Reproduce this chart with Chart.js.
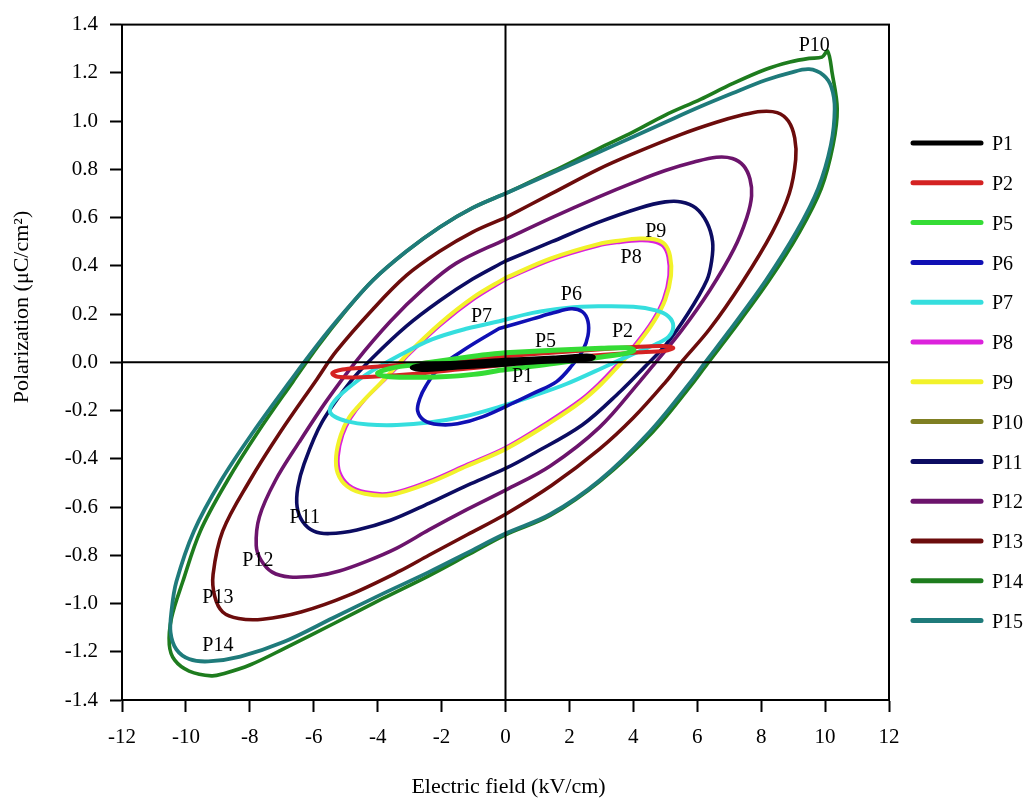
<!DOCTYPE html>
<html>
<head>
<meta charset="utf-8">
<script src="https://cdn.jsdelivr.net/npm/chart.js@4.4.1/dist/chart.umd.min.js"></script>
<style>
  html, body { margin: 0; padding: 0; background: #ffffff; }
  #wrap { width: 1026px; height: 798px; }
</style>
</head>
<body>
<div id="wrap"><canvas id="c" width="1026" height="798"></canvas></div>
<script>
// ---- Data: [E (kV/cm), P (µC/cm²)] loops ----
const p1 = [[0,0.008],[1.5,0.018],[2.55,0.026],[2.75,0.02],[2.5,0.012],[1.0,0.002],[0,-0.008],[-1.5,-0.02],[-2.6,-0.03],[-2.92,-0.022],[-2.6,-0.012],[-2.0,-0.007],[0,0.008]];
const p2 = [[0,0.025],[2.0,0.045],[4.0,0.063],[4.9,0.068],[5.25,0.06],[5.0,0.048],[4.0,0.04],[2.0,0.02],[0,-0.01],[-1.5,-0.03],[-3.0,-0.05],[-4.5,-0.062],[-5.25,-0.06],[-5.42,-0.045],[-5.1,-0.03],[-4.5,-0.023],[-3.0,-0.008],[-1.5,0.01],[0,0.025]];
const p5 = [[0,0.04],[1.5,0.05],[3.0,0.058],[3.8,0.06],[4.02,0.05],[3.8,0.038],[3.0,0.022],[1.5,-0.005],[0,-0.03],[-1.0,-0.05],[-2.0,-0.06],[-3.0,-0.062],[-3.75,-0.058],[-4.0,-0.045],[-3.6,-0.025],[-3.0,-0.012],[-1.0,0.025],[0,0.04]];
const p6 = [[-0.2,0.14],[0.85,0.18],[1.5,0.205],[2.05,0.222],[2.4,0.21],[2.58,0.17],[2.58,0.11],[2.42,0.05],[2.1,-0.01],[1.6,-0.08],[0.85,-0.13],[0.3,-0.165],[-0.7,-0.225],[-1.5,-0.255],[-2.1,-0.258],[-2.55,-0.24],[-2.75,-0.2],[-2.68,-0.15],[-2.5,-0.1],[-2.06,-0.02],[-1.2,0.06],[-0.2,0.14]];
const p7 = [[-0.2,0.17],[0.85,0.205],[1.9,0.225],[2.9,0.232],[4.0,0.23],[4.7,0.215],[5.1,0.19],[5.25,0.15],[5.1,0.105],[4.7,0.075],[4.0,0.035],[3.25,-0.01],[1.9,-0.09],[0.85,-0.14],[-0.2,-0.185],[-1.3,-0.225],[-2.4,-0.25],[-3.4,-0.26],[-4.3,-0.258],[-4.95,-0.245],[-5.35,-0.225],[-5.5,-0.2],[-5.35,-0.16],[-4.95,-0.11],[-4.35,-0.05],[-3.3,0.03],[-2.3,0.095],[-1.2,0.14],[-0.2,0.17]];
const p8 = [[0,0.342],[1.4,0.422],[2.9,0.482],[3.6,0.497],[4.2,0.504],[4.62,0.5],[4.92,0.482],[5.08,0.437],[5.11,0.36],[4.94,0.262],[4.59,0.172],[4.04,0.073],[3.44,-0.016],[2.94,-0.085],[2.35,-0.154],[1.37,-0.242],[0,-0.352],[-1.2,-0.422],[-2.4,-0.492],[-3.6,-0.542],[-4.38,-0.537],[-4.9,-0.508],[-5.18,-0.456],[-5.23,-0.39],[-5.09,-0.302],[-4.84,-0.232],[-4.42,-0.158],[-3.87,-0.085],[-3.35,-0.016],[-3.05,0.028],[-2.02,0.155],[-0.97,0.263],[0,0.342]];
const p9 = [[0,0.35],[1.4,0.43],[2.9,0.49],[3.6,0.505],[4.2,0.513],[4.65,0.51],[4.98,0.49],[5.15,0.44],[5.18,0.36],[5.0,0.26],[4.65,0.17],[4.1,0.07],[3.5,-0.02],[3.0,-0.09],[2.4,-0.16],[1.4,-0.25],[0,-0.36],[-1.2,-0.43],[-2.4,-0.5],[-3.6,-0.55],[-4.4,-0.545],[-4.95,-0.515],[-5.25,-0.46],[-5.3,-0.39],[-5.15,-0.3],[-4.9,-0.23],[-4.45,-0.16],[-3.9,-0.085],[-3.4,-0.015],[-3.1,0.03],[-2.06,0.16],[-1.0,0.27],[0,0.35]];
const p10 = [];
const p11 = [[0,0.42],[1.45,0.5],[2.9,0.58],[4.2,0.64],[5.0,0.665],[5.5,0.665],[5.95,0.64],[6.3,0.58],[6.48,0.5],[6.45,0.42],[6.3,0.34],[5.7,0.2],[5.0,0.07],[4.35,-0.02],[3.6,-0.12],[2.4,-0.26],[0.85,-0.38],[0,-0.44],[-1.2,-0.51],[-2.4,-0.585],[-3.6,-0.655],[-4.65,-0.695],[-5.5,-0.71],[-6.0,-0.7],[-6.35,-0.66],[-6.52,-0.6],[-6.5,-0.52],[-6.3,-0.42],[-5.75,-0.25],[-4.85,-0.08],[-4.15,0.02],[-3.1,0.15],[-2.06,0.255],[-1.03,0.345],[0,0.42]];
const p12 = [[0,0.51],[1.45,0.6],[2.9,0.685],[4.0,0.745],[5.0,0.795],[5.9,0.83],[6.6,0.85],[7.1,0.845],[7.45,0.815],[7.65,0.76],[7.7,0.69],[7.55,0.6],[7.15,0.47],[6.4,0.3],[5.5,0.13],[4.7,0.0],[4.2,-0.08],[2.94,-0.27],[1.4,-0.43],[0,-0.53],[-1.2,-0.61],[-2.4,-0.695],[-3.4,-0.77],[-4.35,-0.825],[-5.2,-0.865],[-5.9,-0.885],[-6.75,-0.89],[-7.3,-0.87],[-7.65,-0.82],[-7.8,-0.76],[-7.7,-0.64],[-7.2,-0.49],[-6.45,-0.33],[-5.6,-0.16],[-4.7,0.0],[-3.6,0.17],[-2.6,0.3],[-1.55,0.41],[0,0.51]];
const p13 = [[0,0.6],[1.45,0.7],[2.9,0.8],[4.0,0.865],[5.5,0.945],[6.6,0.995],[7.4,1.025],[8.0,1.04],[8.5,1.035],[8.85,1.0],[9.05,0.93],[9.08,0.84],[8.88,0.7],[8.35,0.54],[7.4,0.33],[6.4,0.14],[5.5,0.0],[5.02,-0.08],[4.0,-0.23],[2.94,-0.36],[1.45,-0.51],[0,-0.63],[-1.2,-0.715],[-2.4,-0.8],[-3.3,-0.865],[-4.9,-0.965],[-6.4,-1.035],[-7.6,-1.065],[-8.35,-1.062],[-8.85,-1.035],[-9.1,-0.97],[-9.15,-0.88],[-8.85,-0.7],[-8.0,-0.49],[-7.05,-0.29],[-5.9,-0.07],[-5.3,0.045],[-4.15,0.22],[-3.1,0.36],[-2.06,0.46],[-1.03,0.54],[0,0.6]];
const p14 = [[0,0.7],[1.45,0.79],[2.9,0.885],[4.0,0.955],[5.0,1.025],[6.1,1.09],[7.1,1.155],[8.15,1.215],[8.9,1.245],[9.5,1.26],[9.9,1.265],[10.08,1.29],[10.22,1.2],[10.38,1.05],[10.25,0.9],[9.88,0.72],[9.2,0.54],[8.25,0.34],[7.1,0.13],[6.35,0.0],[5.9,-0.08],[4.6,-0.29],[2.98,-0.49],[1.4,-0.635],[0,-0.715],[-1.2,-0.8],[-2.4,-0.885],[-3.85,-0.98],[-5.4,-1.085],[-6.9,-1.185],[-8.0,-1.255],[-8.8,-1.29],[-9.2,-1.3],[-9.9,-1.28],[-10.35,-1.235],[-10.52,-1.17],[-10.45,-1.06],[-10.1,-0.91],[-9.55,-0.7],[-8.7,-0.49],[-7.75,-0.29],[-6.65,-0.08],[-5.85,0.07],[-5.08,0.2],[-4.15,0.34],[-3.1,0.46],[-2.06,0.56],[-1.03,0.64],[0,0.7]];
const p15 = [[0,0.7],[1.45,0.785],[2.9,0.87],[4.0,0.935],[5.0,0.995],[6.1,1.06],[7.1,1.115],[8.15,1.17],[8.9,1.2],[9.5,1.215],[9.95,1.19],[10.2,1.14],[10.3,1.05],[10.18,0.9],[9.78,0.72],[9.1,0.54],[8.15,0.34],[7.0,0.13],[6.25,0.0],[5.8,-0.08],[4.5,-0.29],[2.94,-0.49],[1.4,-0.63],[0,-0.71],[-1.2,-0.79],[-2.4,-0.87],[-3.85,-0.96],[-5.4,-1.06],[-6.95,-1.16],[-8.3,-1.22],[-9.3,-1.24],[-9.9,-1.23],[-10.3,-1.19],[-10.48,-1.12],[-10.45,-1.03],[-10.3,-0.91],[-9.75,-0.7],[-8.9,-0.49],[-7.9,-0.29],[-6.75,-0.08],[-5.9,0.07],[-5.1,0.2],[-4.15,0.34],[-3.1,0.46],[-2.06,0.56],[-1.03,0.64],[0,0.7]];

const seriesNames = ['P1','P2','P5','P6','P7','P8','P9','P10','P11','P12','P13','P14','P15'];
const seriesData = [p1, p2, p5, p6, p7, p8, p9, p10, p11, p12, p13, p14, p15];
const seriesColors = ['#000000','#d42222','#35dc35','#1010b4','#35dede','#dc22dc','#f2f22a','#7f7f22','#0c0c62','#6c146c','#6c0c0c','#1e7c1e','#1f7b7b'];
const seriesWidths = [5, 4, 5, 3.6, 4, 3, 4, 3.6, 3.6, 3.6, 3.6, 3.6, 3.8];
const seriesOrder = [1, 3, 2, 4, 5, 7, 6, 14, 8, 9, 10, 12, 11];

const xTicks = [-12,-10,-8,-6,-4,-2,0,2,4,6,8,10,12];
const yTicks = [-1.4,-1.2,-1.0,-0.8,-0.6,-0.4,-0.2,0.0,0.2,0.4,0.6,0.8,1.0,1.2,1.4];

// curve labels: [text, E, P]
const curveLabels = [
  ['P10', 9.66, 1.313], ['P9', 4.7, 0.54], ['P8', 3.93, 0.435], ['P6', 2.06, 0.28],
  ['P7', -0.75, 0.19], ['P5', 1.25, 0.085], ['P2', 3.66, 0.128], ['P1', 0.53, -0.058],
  ['P11', -6.28, -0.646], ['P12', -7.75, -0.824], ['P13', -9.0, -0.978], ['P14', -9.0, -1.176]
];

const FONT = "'Liberation Serif', 'Times New Roman', serif";
Chart.defaults.font.family = FONT;
Chart.defaults.font.size = 21;
Chart.defaults.color = '#000';

const datasets = seriesNames.map((name, i) => ({
  label: name,
  data: seriesData[i].map(p => ({x: p[0], y: p[1]})),
  borderColor: seriesColors[i],
  backgroundColor: seriesColors[i],
  borderWidth: seriesWidths[i],
  showLine: true,
  pointRadius: 0,
  pointHoverRadius: 0,
  tension: 0.35,
  fill: false,
  order: seriesOrder[i],
  borderJoinStyle: 'round',
  borderCapStyle: 'round'
}));

const decor = {
  id: 'decor',
  afterDatasetsDraw(chart) {
    const {ctx, chartArea: a, scales: {x, y}} = chart;
    ctx.save();
    ctx.strokeStyle = '#000';
    ctx.lineWidth = 2;
    const x0 = x.getPixelForValue(0), y0 = y.getPixelForValue(0);
    ctx.beginPath();
    ctx.moveTo(x0, a.top); ctx.lineTo(x0, a.bottom);
    ctx.moveTo(a.left, y0); ctx.lineTo(a.right, y0);
    ctx.stroke();
    ctx.strokeRect(a.left, a.top, a.right - a.left, a.bottom - a.top);
    ctx.fillStyle = '#000';
    ctx.font = '20px ' + FONT;
    ctx.textAlign = 'center';
    ctx.textBaseline = 'middle';
    curveLabels.forEach(([t, ex, py]) => {
      ctx.fillText(t, x.getPixelForValue(ex), y.getPixelForValue(py));
    });
    ctx.restore();
  },
  afterDraw(chart) {
    const {ctx, chartArea: a} = chart;
    ctx.save();
    ctx.fillStyle = '#000';
    ctx.font = '22px ' + FONT;
    ctx.textAlign = 'center';
    ctx.textBaseline = 'middle';
    ctx.fillText('Electric field (kV/cm)', (a.left + a.right) / 2 + 3, 787);
    ctx.translate(22, 307);
    ctx.rotate(-Math.PI / 2);
    ctx.fillText('Polarization (\u03bcC/cm\u00b2)', 0, 0);
    ctx.restore();
    ctx.save();
    ctx.font = '20px ' + FONT;
    ctx.textAlign = 'left';
    ctx.textBaseline = 'middle';
    chart.data.datasets.forEach((ds, i) => {
      const ly = 143 + i * 39.8;
      ctx.strokeStyle = ds.borderColor;
      ctx.lineWidth = 5;
      ctx.lineCap = 'round';
      ctx.beginPath();
      ctx.moveTo(913, ly); ctx.lineTo(981, ly);
      ctx.stroke();
      ctx.fillStyle = '#000';
      ctx.fillText(ds.label, 992, ly + 2);
    });
    ctx.restore();
  }
};

new Chart(document.getElementById('c'), {
  type: 'scatter',
  data: { datasets },
  options: {
    responsive: false,
    animation: false,
    devicePixelRatio: 1,
    layout: { padding: { left: 0, right: 137, top: 22, bottom: 0 } },
    plugins: { legend: { display: false }, tooltip: { enabled: false } },
    scales: {
      x: {
        type: 'linear',
        min: -12, max: 12,
        afterFit: s => { s.height = 98; },
        afterBuildTicks: s => { s.ticks = xTicks.map(v => ({value: v})); },
        ticks: { padding: 13, font: { size: 21 }, color: '#000', callback: v => String(v) },
        grid: { drawOnChartArea: false, drawTicks: true, tickLength: 12, tickWidth: 2, tickColor: '#000', color: '#000' },
        border: { display: true, color: '#000', width: 2 }
      },
      y: {
        type: 'linear',
        min: -1.4, max: 1.4,
        afterFit: s => { s.width = 122; },
        afterBuildTicks: s => { s.ticks = yTicks.map(v => ({value: v})); },
        ticks: { padding: 12, font: { size: 21 }, color: '#000', callback: v => (Math.round(v * 10) / 10).toFixed(1) },
        grid: { drawOnChartArea: false, drawTicks: true, tickLength: 12, tickWidth: 2, tickColor: '#000', color: '#000' },
        border: { display: true, color: '#000', width: 2 }
      }
    }
  },
  plugins: [decor]
});
</script>
</body>
</html>
